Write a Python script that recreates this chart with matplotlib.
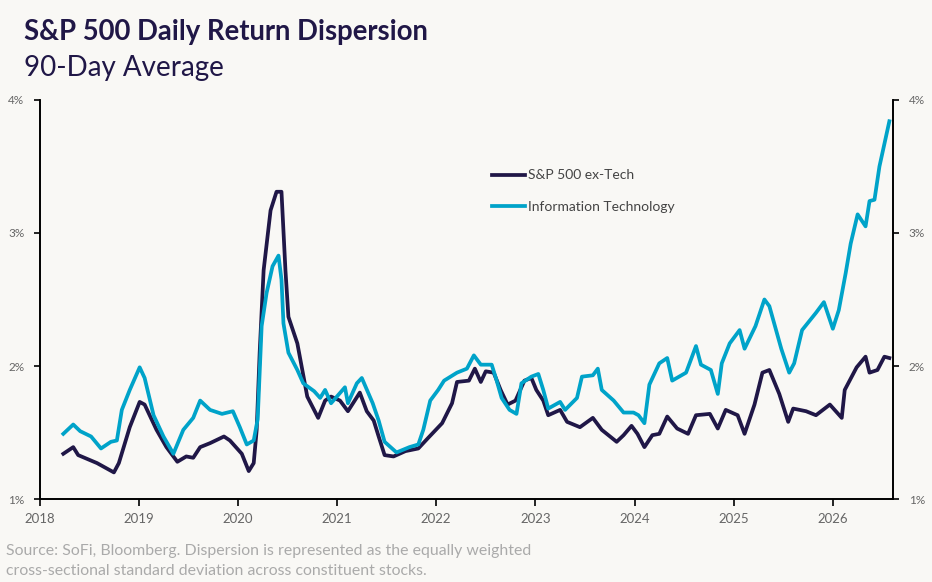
import matplotlib
matplotlib.use('Agg')
import matplotlib.pyplot as plt
from matplotlib.ticker import FuncFormatter

plt.rcParams['font.family'] = ['Lato', 'DejaVu Sans']

# S&P 500 ex-Tech, 90-day avg dispersion (%)
ex_tech_t = [2018.24, 2018.34, 2018.39, 2018.58, 2018.75, 2018.80, 2018.91, 2019.01, 2019.06, 2019.18,
             2019.28, 2019.39, 2019.48, 2019.55, 2019.62, 2019.72, 2019.86, 2019.92, 2020.04, 2020.11,
             2020.16, 2020.19, 2020.22, 2020.26, 2020.33, 2020.39, 2020.44, 2020.48, 2020.51, 2020.60,
             2020.65, 2020.70, 2020.81, 2020.88, 2020.94, 2021.03, 2021.11, 2021.23, 2021.30, 2021.37,
             2021.42, 2021.48, 2021.57, 2021.69, 2021.82, 2021.92, 2022.06, 2022.16, 2022.21, 2022.33,
             2022.39, 2022.45, 2022.50, 2022.58, 2022.65, 2022.72, 2022.80, 2022.89, 2022.96, 2023.01,
             2023.08, 2023.13, 2023.25, 2023.32, 2023.45, 2023.58, 2023.67, 2023.82, 2023.89, 2023.97,
             2024.03, 2024.10, 2024.18, 2024.25, 2024.33, 2024.43, 2024.54, 2024.62, 2024.76, 2024.84,
             2024.92, 2025.04, 2025.11, 2025.21, 2025.29, 2025.36, 2025.46, 2025.55, 2025.60, 2025.73,
             2025.83, 2025.97, 2026.09, 2026.12, 2026.24, 2026.33, 2026.37, 2026.45, 2026.52, 2026.57]
ex_tech = [1.34, 1.39, 1.33, 1.27, 1.20, 1.27, 1.54, 1.73, 1.71, 1.52,
           1.39, 1.28, 1.32, 1.31, 1.39, 1.42, 1.47, 1.44, 1.34, 1.21,
           1.27, 1.52, 2.10, 2.72, 3.17, 3.31, 3.31, 2.72, 2.37, 2.17,
           1.97, 1.77, 1.61, 1.74, 1.77, 1.74, 1.66, 1.80, 1.66, 1.59,
           1.47, 1.33, 1.32, 1.36, 1.38, 1.46, 1.57, 1.72, 1.88, 1.89,
           1.98, 1.88, 1.96, 1.95, 1.82, 1.71, 1.74, 1.89, 1.91, 1.82,
           1.74, 1.63, 1.67, 1.58, 1.54, 1.61, 1.52, 1.43, 1.48, 1.55,
           1.49, 1.39, 1.48, 1.49, 1.62, 1.53, 1.49, 1.63, 1.64, 1.53,
           1.67, 1.63, 1.49, 1.71, 1.95, 1.97, 1.79, 1.58, 1.68, 1.66,
           1.63, 1.71, 1.61, 1.82, 1.99, 2.07, 1.95, 1.97, 2.07, 2.06]

# Information Technology
it_t = [2018.24, 2018.34, 2018.41, 2018.52, 2018.62, 2018.72, 2018.78, 2018.83, 2018.91, 2019.01,
        2019.06, 2019.15, 2019.25, 2019.35, 2019.45, 2019.55, 2019.62, 2019.72, 2019.84, 2019.95,
        2020.02, 2020.09, 2020.16, 2020.20, 2020.24, 2020.29, 2020.35, 2020.41, 2020.44, 2020.46,
        2020.51, 2020.60, 2020.66, 2020.77, 2020.83, 2020.88, 2020.94, 2021.08, 2021.11, 2021.20,
        2021.25, 2021.36, 2021.42, 2021.48, 2021.60, 2021.73, 2021.82, 2021.87, 2021.94, 2022.02,
        2022.08, 2022.21, 2022.31, 2022.38, 2022.45, 2022.56, 2022.61, 2022.66, 2022.74, 2022.81,
        2022.86, 2022.96, 2023.03, 2023.08, 2023.13, 2023.25, 2023.30, 2023.42, 2023.47, 2023.58,
        2023.63, 2023.67, 2023.79, 2023.89, 2023.99, 2024.04, 2024.10, 2024.15, 2024.25, 2024.33,
        2024.38, 2024.52, 2024.62, 2024.67, 2024.77, 2024.84, 2024.88, 2024.96, 2025.06, 2025.11,
        2025.22, 2025.31, 2025.36, 2025.48, 2025.56, 2025.61, 2025.69, 2025.83, 2025.91, 2026.00,
        2026.06, 2026.13, 2026.18, 2026.25, 2026.33, 2026.37, 2026.42, 2026.47, 2026.52, 2026.57]
it = [1.49, 1.56, 1.51, 1.47, 1.38, 1.43, 1.44, 1.67, 1.82, 1.99,
      1.91, 1.63, 1.47, 1.34, 1.52, 1.61, 1.74, 1.67, 1.64, 1.66,
      1.54, 1.41, 1.44, 1.60, 2.30, 2.55, 2.75, 2.83, 2.65, 2.32,
      2.10, 1.97, 1.87, 1.81, 1.76, 1.82, 1.72, 1.84, 1.72, 1.87,
      1.91, 1.72, 1.59, 1.43, 1.35, 1.39, 1.41, 1.52, 1.74, 1.82,
      1.89, 1.95, 1.98, 2.08, 2.01, 2.01, 1.89, 1.76, 1.67, 1.64,
      1.87, 1.92, 1.94, 1.82, 1.68, 1.73, 1.67, 1.76, 1.92, 1.93,
      1.98, 1.82, 1.74, 1.65, 1.65, 1.63, 1.57, 1.86, 2.02, 2.06,
      1.89, 1.95, 2.15, 2.01, 1.97, 1.79, 2.02, 2.17, 2.27, 2.13,
      2.30, 2.50, 2.45, 2.13, 1.95, 2.02, 2.27, 2.40, 2.48, 2.28,
      2.42, 2.70, 2.92, 3.14, 3.05, 3.24, 3.25, 3.50, 3.67, 3.84]

years = list(range(2018, 2027))
pct_ticks = [1, 2, 3, 4]

navy = '#201747'
cyan = '#00a3c9'
bg = '#f9f8f5'
tick_grey = '#666666'

fig = plt.figure(figsize=(9.32, 5.82), dpi=100, facecolor=bg)
ax = fig.add_axes([0.0424, 0.1426, 0.9161, 0.6856], facecolor=bg)

ax.plot(ex_tech_t, ex_tech, color=navy, lw=2.7, label='S&P 500 ex-Tech', solid_joinstyle='round')
ax.plot(it_t, it, color=cyan, lw=2.7, label='Information Technology', solid_joinstyle='round')

ax.set_xlim(2018, 2026.61)
ax.set_ylim(1, 4)
ax.set_xticks(years)
ax.set_xticklabels([str(y) for y in years])
ax.set_yticks(pct_ticks)
ax.yaxis.set_major_formatter(FuncFormatter(lambda v, p: '%d%%' % v))

ax2 = ax.twinx()
ax2.set_ylim(1, 4)
ax2.set_yticks(pct_ticks)
ax2.yaxis.set_major_formatter(FuncFormatter(lambda v, p: '%d%%' % v))

for a in (ax, ax2):
    a.spines['top'].set_visible(False)
    for s in ('left', 'right', 'bottom'):
        a.spines[s].set_linewidth(1.2)
        a.spines[s].set_color('black')
    a.tick_params(axis='y', length=4, width=1.2, labelsize=8.5, labelcolor=tick_grey, pad=7)
ax.tick_params(axis='x', length=5, width=1.2, labelsize=9.5, labelcolor=tick_grey, pad=5)

leg = ax.legend(loc='upper left', bbox_to_anchor=(0.5296, 0.826), frameon=False,
                borderpad=0, borderaxespad=0, fontsize=10, handlelength=2.4,
                handletextpad=0.2, labelspacing=1.4)
for t in leg.get_texts():
    t.set_color('#444444')

fig.text(0.026, 0.945, 'S&P 500 Daily Return Dispersion', fontsize=19.8, fontweight='bold',
         color=navy, va='center')
fig.text(0.026, 0.883, '90-Day Average', fontsize=20, color=navy, va='center')
fig.text(0.006, 0.053, 'Source: SoFi, Bloomberg. Dispersion is represented as the equally weighted',
         fontsize=11.4, color='#aaaaaa', va='center')
fig.text(0.006, 0.019, 'cross-sectional standard deviation across constituent stocks.',
         fontsize=11.4, color='#aaaaaa', va='center')

fig.savefig('out.png', dpi=100, facecolor=bg)
